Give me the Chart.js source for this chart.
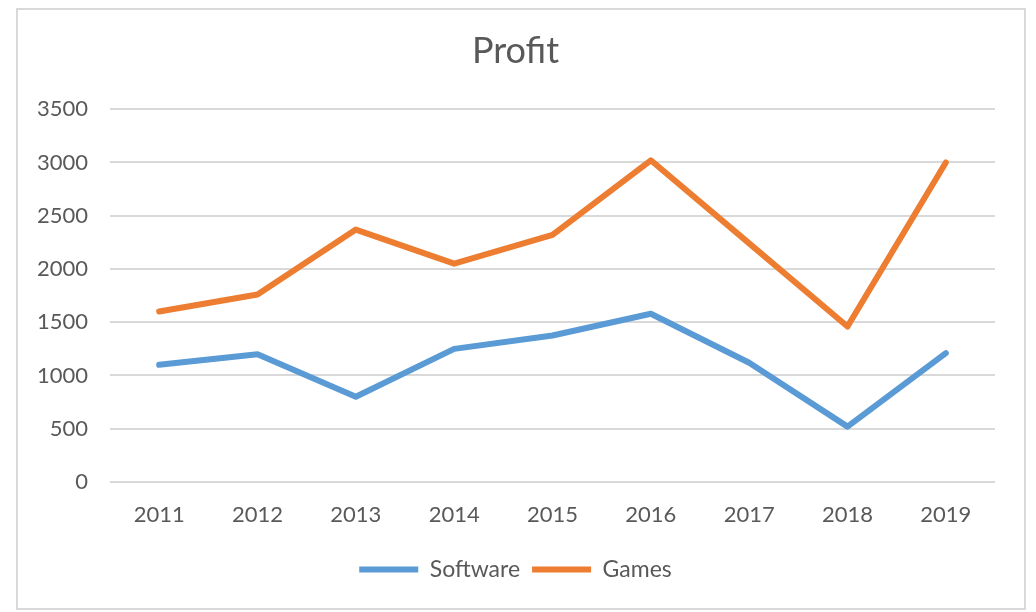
<!DOCTYPE html>
<html>
<head>
<meta charset="utf-8">
<title>Profit</title>
<script src="https://cdn.jsdelivr.net/npm/chart.js@4"></script>
<style>
  html, body { margin: 0; padding: 0; background: #fff; }
  #frame {
    position: absolute;
    left: 16px; top: 8px;
    width: 1006px; height: 598px;
    border: 2px solid #d9d9d9;
    background: #fff;
  }
</style>
</head>
<body>
<div id="frame"><canvas id="profitChart"></canvas></div>
<script>
(function () {
  'use strict'

  const years = ['2011', '2012', '2013', '2014', '2015', '2016', '2017', '2018', '2019'];
  const software = [1100, 1200, 800, 1250, 1375, 1580, 1120, 520, 1210];
  const games = [1600, 1760, 2370, 2050, 2320, 3020, 2240, 1460, 3000];

  const textColor = '#595959';
  const fontFamily = 'Lato, "Open Sans", sans-serif';

  var ctx = document.getElementById('profitChart');

  var chart = new Chart(ctx, {
    type: 'line',
    data: {
      labels: years,
      datasets: [
        {
          label: 'Software',
          data: software,
          borderColor: '#5b9bd5',
          backgroundColor: '#5b9bd5',
          borderWidth: 6,
          borderCapStyle: 'round',
          borderJoinStyle: 'round',
          pointRadius: 0,
          pointStyle: 'line',
          tension: 0
        },
        {
          label: 'Games',
          data: games,
          borderColor: '#ed7d31',
          backgroundColor: '#ed7d31',
          borderWidth: 6,
          borderCapStyle: 'round',
          borderJoinStyle: 'round',
          pointRadius: 0,
          pointStyle: 'line',
          tension: 0
        }
      ]
    },
    options: {
      responsive: true,
      maintainAspectRatio: false,
      animation: false,
      layout: {
        padding: { left: 18, right: 29, top: 0, bottom: 17 }
      },
      plugins: {
        title: {
          display: true,
          text: 'Profit',
          color: textColor,
          font: { family: fontFamily, size: 36, weight: 'normal' },
          padding: { top: 20, bottom: 36 }
        },
        legend: {
          position: 'bottom',
          labels: {
            usePointStyle: true,
            pointStyleWidth: 59,
            color: textColor,
            font: { family: fontFamily, size: 23 },
            padding: 12
          }
        },
        tooltip: { enabled: false }
      },
      scales: {
        x: {
          offset: true,
          grid: { display: false, drawTicks: false },
          border: { display: false },
          ticks: {
            color: textColor,
            font: { family: fontFamily, size: 22 },
            padding: 20,
            maxRotation: 0
          },
          // extra room between the year labels and the legend row
          afterFit: function (axis) {
            axis.height = 64;
          }
        },
        y: {
          min: 0,
          max: 3500,
          grid: { color: '#d9d9d9', lineWidth: 2, drawTicks: false },
          border: { display: false },
          ticks: {
            stepSize: 500,
            color: textColor,
            font: { family: fontFamily, size: 22 },
            padding: 22,
            callback: function (value) {
              return String(value);
            }
          },
          afterFit: function (axis) {
            axis.width = 74;
          }
        }
      }
    }
  });
})()
</script>
</body>
</html>
